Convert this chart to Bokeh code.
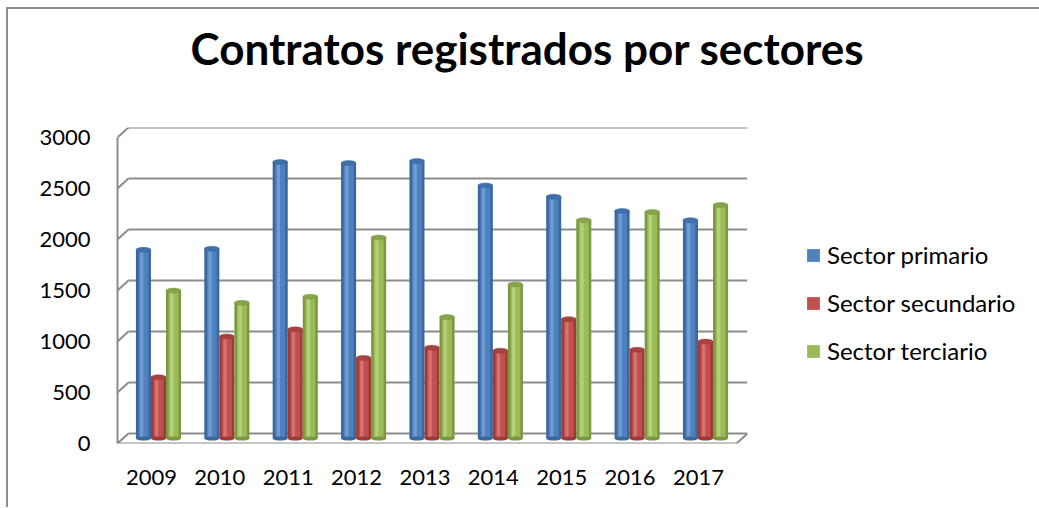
from bokeh.plotting import figure
from bokeh.models import ColumnDataSource, Range1d, LinearAxis, FixedTicker, Legend, LegendItem, Title
from bokeh.transform import dodge
from bokeh.embed import file_html
from bokeh.resources import INLINE

# ---------------- data ----------------
years = ["2009", "2010", "2011", "2012", "2013", "2014", "2015", "2016", "2017"]
primario = [1850, 1860, 2710, 2700, 2720, 2480, 2370, 2230, 2140]
secundario = [600, 1000, 1070, 790, 890, 860, 1170, 870, 950]
terciario = [1450, 1330, 1390, 1970, 1190, 1510, 2140, 2220, 2290]
series_names = ["Sector primario", "Sector secundario", "Sector terciario"]
y_ticks = [0, 500, 1000, 1500, 2000, 2500, 3000]
title_text = "Contratos registrados por sectores"

# ---------------- style ----------------
FONT = "Lato"
PX_PER_UNIT = 68.375
X_START = -0.5996
X_END = X_START + 630 / PX_PER_UNIT
DEPTH_X = 0.16
DEPTH_Y = 98
Y_TOP = 3098
LABEL_SHIFT = 7 / PX_PER_UNIT
GRID_COLOR = "#8c8c8c"
BAR_W = 0.22

palettes = [
    # dark edge, base, highlight, cap
    ("#3a679c", "#4f81bd", "#6f9cd4", "#3f70aa"),
    ("#9b3b38", "#c0504d", "#d6726f", "#a8423f"),
    ("#7a9842", "#9bbb59", "#b4d17a", "#86a44a"),
]
keys = ["primario", "secundario", "terciario"]
offsets = [-BAR_W, 0.0, BAR_W]

idx = list(range(len(years)))
src = ColumnDataSource(dict(x=idx, primario=primario, secundario=secundario, terciario=terciario))

p = figure(
    frame_width=630, frame_height=316,
    min_border_left=109, min_border_right=290, min_border_top=118, min_border_bottom=64,
    x_range=Range1d(X_START, X_END), y_range=Range1d(0, Y_TOP),
    x_axis_location=None, y_axis_location=None,
    output_backend="svg", toolbar_location=None,
    styles={"margin-left": "6px", "margin-top": "7px",
            "border-left": "2px solid #8c8c8c", "border-top": "2px solid #8c8c8c"},
)
p.extra_x_ranges = {"lab": Range1d(X_START + LABEL_SHIFT, X_END + LABEL_SHIFT)}
p.extra_y_ranges = {"bars": Range1d(-DEPTH_Y / 2, Y_TOP - DEPTH_Y / 2)}
p.grid.visible = False
p.outline_line_color = None
p.background_fill_color = "white"
p.border_fill_color = "white"

# spacer between the title and the plot frame (nearest to the frame)
spacer = Title(text=" ", text_font_size="10px", standoff=36)
p.add_layout(spacer, "above")
main_title = Title(text=title_text, text_font=FONT, text_font_style="bold",
                   text_font_size="44px", text_color="black", align="left",
                   offset=73, standoff=10)
p.add_layout(main_title, "above")

# y axis (front edge of the left wall)
yaxis = LinearAxis(
    ticker=FixedTicker(ticks=y_ticks), bounds=(y_ticks[0], y_ticks[-1]),
    axis_line_color=GRID_COLOR, axis_line_width=2,
    major_tick_line_color=None, minor_tick_line_color=None,
    major_label_standoff=21, major_label_text_font=FONT,
    major_label_text_font_size="22px", major_label_text_color="black",
)
p.add_layout(yaxis, "left")

# x axis (category labels)
xaxis = LinearAxis(
    x_range_name="lab", ticker=FixedTicker(ticks=idx),
    major_label_overrides={i: y for i, y in zip(idx, years)},
    axis_line_color=None, major_tick_line_color=None, minor_tick_line_color=None,
    major_label_standoff=20, major_label_text_font=FONT,
    major_label_text_font_size="22px", major_label_text_color="black",
)
p.add_layout(xaxis, "below")

# back wall gridlines
n = len(y_ticks)
p.segment(x0=[X_START + DEPTH_X] * n, y0=[t + DEPTH_Y for t in y_ticks],
          x1=[X_END] * n, y1=[t + DEPTH_Y for t in y_ticks],
          line_color=GRID_COLOR, line_width=2)
# left wall stubs
p.segment(x0=[X_START] * n, y0=y_ticks, x1=[X_START + DEPTH_X] * n,
          y1=[t + DEPTH_Y for t in y_ticks], line_color=GRID_COLOR, line_width=2)
# floor front edge
p.line(x=[X_START, X_END - DEPTH_X, X_END], y=[0, 0, DEPTH_Y],
       line_color=GRID_COLOR, line_width=2)

legend_items = []
for key, name, off, (dark, base, light, cap) in zip(keys, series_names, offsets, palettes):
    xd = dodge("x", off)
    p.vbar(x=xd, top=key, bottom=0, width=BAR_W, source=src, y_range_name="bars",
           fill_color=dark, line_color=None)
    r = p.vbar(x=xd, top=key, bottom=0, width=BAR_W * 0.66, source=src, y_range_name="bars",
               fill_color=base, line_color=None)
    p.vbar(x=dodge("x", off - BAR_W * 0.12), top=key, bottom=0, width=BAR_W * 0.22,
           source=src, y_range_name="bars", fill_color=light, line_color=None)
    p.ellipse(x=xd, y=key, width=15, height=5, width_units="screen", height_units="screen",
              source=src, y_range_name="bars", fill_color=cap, line_color=dark, line_width=0.5)
    p.ellipse(x=xd, y=0, width=15, height=4, width_units="screen", height_units="screen",
              source=src, y_range_name="bars", fill_color=dark, line_color=None)
    legend_items.append(LegendItem(label=name, renderers=[r]))

legend = Legend(
    items=legend_items, location=(58, 78), orientation="vertical",
    glyph_width=16, glyph_height=16, label_standoff=6, label_height=22, spacing=19,
    padding=0, margin=0, border_line_color=None, background_fill_alpha=0,
    label_text_font=FONT, label_text_font_size="24px", label_text_color="black",
)
p.add_layout(legend, "right")

open("out.html", "w").write(file_html(p, INLINE))
